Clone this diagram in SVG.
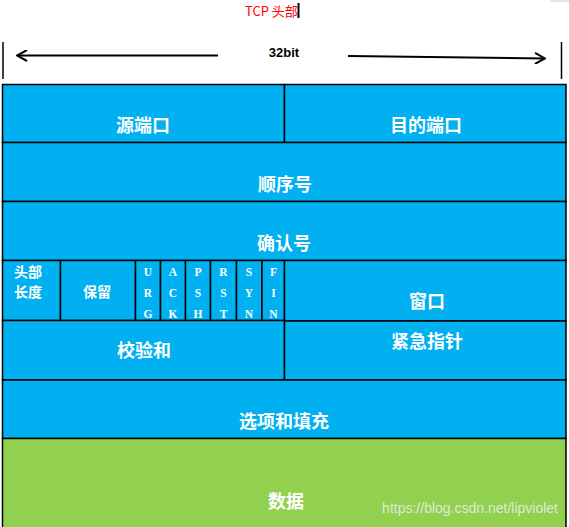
<svg xmlns="http://www.w3.org/2000/svg" width="569" height="527" viewBox="0 0 569 527">
<style>
.blue{fill:#00B0F0;stroke:#000;stroke-width:1.5}
.green{fill:#92D050;stroke:#000;stroke-width:1.5}
.big{font-family:"Noto Sans CJK SC","Microsoft YaHei",sans-serif;font-size:18px;font-weight:bold;fill:#fff;text-anchor:middle}
.sm{font-family:"Noto Sans CJK SC","Microsoft YaHei",sans-serif;font-size:14px;font-weight:bold;fill:#fff;text-anchor:middle}
.flag{font-family:"Liberation Serif",serif;font-size:11.5px;font-weight:bold;fill:#fff;text-anchor:middle}
.arr{stroke:#000;stroke-width:2;fill:none}
</style>
<defs>
<marker id="head" viewBox="0 0 12 12" refX="11" refY="6" markerWidth="12" markerHeight="12" markerUnits="userSpaceOnUse" orient="auto">
<path d="M1,0.5 L11,6 L1,11.5" fill="none" stroke="#000" stroke-width="2"/>
</marker>
</defs>
<rect width="569" height="527" fill="#fff"/>
<line x1="550" y1="1" x2="569" y2="1" stroke="#ccc" stroke-width="1"/>
<g id="title">
<text x="245" y="16" font-family="Noto Sans CJK SC,sans-serif" font-size="13" fill="#f00">TCP 头部</text>
<rect x="297.5" y="3" width="2" height="15" fill="#000"/>
</g>
<g id="width-label">
<line x1="3" y1="42" x2="3" y2="79" stroke="#000" stroke-width="1.5"/>
<line x1="561.5" y1="42" x2="561.5" y2="79" stroke="#000" stroke-width="1.5"/>
<text x="284" y="57" font-family="Liberation Sans,Arial,sans-serif" font-size="13" font-weight="bold" fill="#000" text-anchor="middle">32bit</text>
</g>
<g id="connectors">
<line class="arr" x1="218" y1="55.5" x2="17" y2="55.5" marker-end="url(#head)"/>
<line class="arr" x1="348" y1="56" x2="545" y2="58.5" marker-end="url(#head)"/>
</g>
<g id="src-port"><rect class="blue" x="2.5" y="84.5" width="282" height="58"/><text class="big" x="143" y="132">源端口</text></g>
<g id="dst-port"><rect class="blue" x="284.5" y="84.5" width="281.5" height="58"/><text class="big" x="426" y="132">目的端口</text></g>
<g id="seq"><rect class="blue" x="2.5" y="142.5" width="563.5" height="59"/><text class="big" x="285" y="191">顺序号</text></g>
<g id="ack"><rect class="blue" x="2.5" y="201.5" width="563.5" height="59"/><text class="big" x="284" y="250">确认号</text></g>
<g id="hdr-len"><rect class="blue" x="2.5" y="260.5" width="58" height="60"/><text class="sm" x="28" y="277">头部</text><text class="sm" x="28" y="296.5">长度</text></g>
<g id="reserved"><rect class="blue" x="60.5" y="260.5" width="75" height="60"/><text class="sm" x="97" y="297">保留</text></g>
<g id="urg"><rect class="blue" x="135.5" y="260.5" width="25" height="60"/><text class="flag" x="148" y="276">U</text><text class="flag" x="148" y="297">R</text><text class="flag" x="148" y="318">G</text></g>
<g id="ack-flag"><rect class="blue" x="160.5" y="260.5" width="25" height="60"/><text class="flag" x="173" y="276">A</text><text class="flag" x="173" y="297">C</text><text class="flag" x="173" y="318">K</text></g>
<g id="psh"><rect class="blue" x="185.5" y="260.5" width="25" height="60"/><text class="flag" x="198" y="276">P</text><text class="flag" x="198" y="297">S</text><text class="flag" x="198" y="318">H</text></g>
<g id="rst"><rect class="blue" x="210.5" y="260.5" width="26" height="60"/><text class="flag" x="223.5" y="276">R</text><text class="flag" x="223.5" y="297">S</text><text class="flag" x="223.5" y="318">T</text></g>
<g id="syn"><rect class="blue" x="236.5" y="260.5" width="25.5" height="60"/><text class="flag" x="249" y="276">S</text><text class="flag" x="249" y="297">Y</text><text class="flag" x="249" y="318">N</text></g>
<g id="fin"><rect class="blue" x="262" y="260.5" width="22.5" height="60"/><text class="flag" x="273.5" y="276">F</text><text class="flag" x="273.5" y="297">I</text><text class="flag" x="273.5" y="318">N</text></g>
<g id="window"><rect class="blue" x="284.5" y="260.5" width="281.5" height="60.5"/><text class="big" x="427" y="308">窗口</text></g>
<g id="checksum"><rect class="blue" x="2.5" y="320.5" width="282" height="59.5"/><text class="big" x="144" y="357">校验和</text></g>
<g id="urg-ptr"><rect class="blue" x="284.5" y="321" width="281.5" height="59"/><text class="big" x="427" y="348">紧急指针</text></g>
<g id="options"><rect class="blue" x="2.5" y="380" width="563.5" height="58.5"/><text class="big" x="284" y="428">选项和填充</text></g>
<g id="data"><rect class="green" x="2.5" y="438.5" width="563.5" height="92"/><text class="big" x="286" y="508">数据</text></g>
<text x="558" y="513" font-family="Liberation Sans,Arial,sans-serif" font-size="14" fill="#f2f2f2" fill-opacity="0.8" text-anchor="end">https://blog.csdn.net/lipviolet</text>
</svg>
